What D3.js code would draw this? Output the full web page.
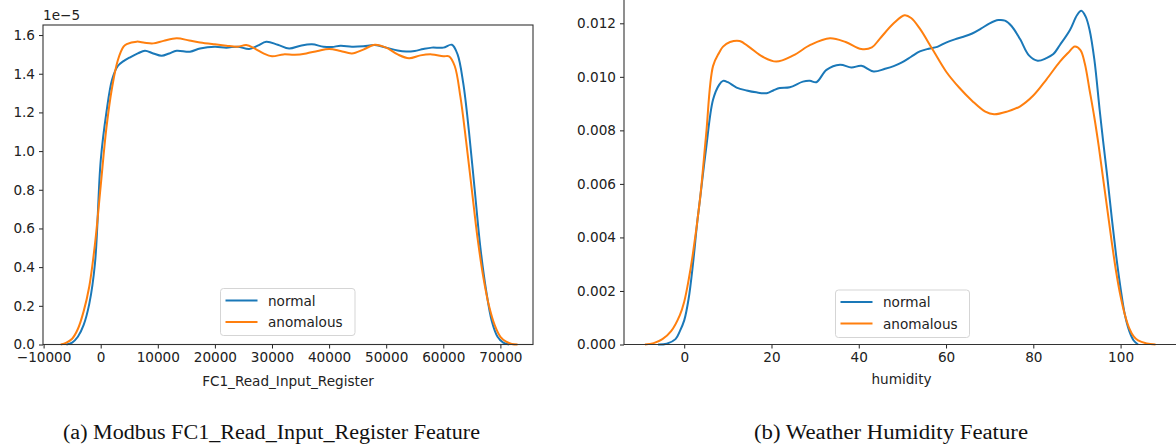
<!DOCTYPE html>
<html>
<head>
<meta charset="utf-8">
<script src="https://cdn.jsdelivr.net/npm/d3@7"></script>
<style>
  html, body { margin: 0; padding: 0; background: #fff; }
  svg { display: block; }
  .tick text { font-family: "DejaVu Sans", sans-serif; font-size: 13.6px; fill: #222; }
</style>
</head>
<body>
<svg id="chart" width="1176" height="445"></svg>
<script>
// ---------- DATA ----------
// (a) Modbus FC1_Read_Input_Register: x values, density in units of 1e-5
const fc1NormalX = [-6000,-5000,-4000,-3000,-2000,-1000,0,1000,2000,3000,4000,5150,6500,7750,9200,10680,12000,13300,15640,17400,20000,22000,24000,26000,27500,29000,31000,33000,35000,37000,39000,40500,42000,44000,46000,48000,50000,52000,53500,55000,56500,58000,60000,61500,62500,63500,64500,65500,66500,67500,68500,69500,70500,71500];
const fc1NormalY = [0,0.01,0.04,0.10,0.21,0.42,0.95,1.20,1.37,1.44,1.465,1.485,1.505,1.519,1.505,1.493,1.505,1.519,1.514,1.531,1.540,1.535,1.540,1.528,1.545,1.565,1.550,1.530,1.545,1.552,1.540,1.538,1.545,1.540,1.542,1.548,1.535,1.520,1.515,1.518,1.528,1.535,1.535,1.550,1.50,1.35,1.10,0.80,0.50,0.28,0.12,0.04,0.01,0];
const fc1AnomX = [-7000,-6000,-5000,-4000,-3000,-2000,-1000,0,1000,2000,3000,4000,4550,6300,7700,9200,11000,13300,15500,17400,20000,22000,24000,25500,27000,28500,30000,32000,34000,36000,38000,40000,42000,44000,46000,48000,50000,52000,54000,56000,58000,60000,61000,62000,63000,64000,65000,66000,67000,68000,69000,70000,71000,72000,73000];
const fc1AnomY = [0,0.01,0.03,0.08,0.17,0.30,0.52,0.82,1.12,1.33,1.47,1.54,1.553,1.566,1.560,1.557,1.570,1.583,1.572,1.562,1.552,1.545,1.540,1.548,1.530,1.505,1.490,1.500,1.498,1.505,1.518,1.528,1.518,1.505,1.525,1.550,1.535,1.500,1.480,1.495,1.500,1.490,1.490,1.44,1.28,1.05,0.80,0.55,0.35,0.20,0.10,0.04,0.015,0.003,0];

// (b) Weather humidity: x values, density
const humNormalX = [-6,-4,-2,-1,0,1,2,3,3.6,5,6.6,8,8.9,10,12,14.3,16.5,18.9,20.5,21.9,24.2,27.2,28.8,30.3,32.6,35.7,38.3,40.6,43.4,46,48,50,52,54,56,58,60,62,64,66,68,70,72,73.5,75,77,79,81,83,84.6,86.1,88.4,90,91,92,92.9,94,95.2,96,97,98,99,100,101,102,103,104];
const humNormalY = [0,0.00003,0.0002,0.0005,0.0009,0.0017,0.0030,0.0046,0.0054,0.0073,0.00914,0.0097,0.00985,0.0098,0.0096,0.00949,0.00942,0.00939,0.00950,0.00958,0.00961,0.00982,0.00985,0.00980,0.01026,0.01045,0.01035,0.01041,0.01020,0.01030,0.01040,0.01055,0.01075,0.01095,0.01105,0.01112,0.01128,0.01140,0.01150,0.01162,0.01180,0.01200,0.01212,0.01210,0.01190,0.01140,0.01080,0.01060,0.01070,0.01085,0.01119,0.01175,0.01230,0.01247,0.01225,0.01175,0.01063,0.00877,0.0076,0.0062,0.0047,0.0033,0.0021,0.0011,0.0005,0.00015,0];
const humAnomX = [-9,-7,-5,-3,-1,0,1,2,3.6,5,6.6,8,8.9,10.5,12.7,15,18,21.1,25,29,33.4,37,40.6,43,44.8,48,50.5,52,54,57,60,63,66,69,71,74,77,80,83,86.1,88,89.5,90.8,91.8,92.9,94,95,96,97,98,99,100,101,102,103,104,106,108];
const humAnomY = [0,0.00005,0.0002,0.0005,0.0011,0.0016,0.0024,0.0034,0.0054,0.0078,0.0104,0.0109,0.01113,0.0113,0.01134,0.0111,0.01075,0.01057,0.0108,0.0112,0.01144,0.0113,0.01104,0.0111,0.01142,0.0120,0.0123,0.0122,0.0118,0.0110,0.0102,0.0096,0.0091,0.0087,0.0086,0.0087,0.0089,0.0093,0.0099,0.01057,0.0109,0.01113,0.0110,0.0105,0.0095,0.00847,0.0074,0.0062,0.0050,0.0038,0.0027,0.0018,0.0011,0.0006,0.0003,0.00015,0.00004,0];

const fc1XTicks = [-10000,0,10000,20000,30000,40000,50000,60000,70000];
const fc1YTicks = [0,0.2,0.4,0.6,0.8,1.0,1.2,1.4,1.6];
const humXTicks = [0,20,40,60,80,100];
const humYTicks = [0,0.002,0.004,0.006,0.008,0.010,0.012];
const seriesNames = ["normal","anomalous"];
const captions = ["(a) Modbus FC1_Read_Input_Register Feature", "(b) Weather Humidity Feature"];
const xLabels = ["FC1_Read_Input_Register", "humidity"];

// ---------- DRAWING ----------
const BLUE = "#1a78b8", ORANGE = "#ff7f0e";
const svg = d3.select("#chart");
const FONT = '"DejaVu Sans", sans-serif';

function line(x, y, xs, ys) {
  return d3.line().x((d, i) => x(xs[i])).y((d, i) => y(ys[i])).curve(d3.curveCatmullRom.alpha(0.5))(xs);
}

function legend(g, x0, y0, w, h) {
  const lg = g.append("g");
  lg.append("rect").attr("x", x0).attr("y", y0).attr("width", w).attr("height", h)
    .attr("rx", 3).attr("fill", "white").attr("fill-opacity", 0.85).attr("stroke", "#d5d5d5").attr("stroke-width", 1);
  [BLUE, ORANGE].forEach((c, i) => {
    const yy = y0 + 12 + i * 21.5;
    lg.append("line").attr("x1", x0 + 5).attr("x2", x0 + 37).attr("y1", yy).attr("y2", yy)
      .attr("stroke", c).attr("stroke-width", 2);
    lg.append("text").attr("x", x0 + 47.5).attr("y", yy + 5).text(seriesNames[i])
      .attr("font-family", FONT).attr("font-size", 13.6).attr("fill", "#222");
  });
}

// ----- Panel (a) -----
{
  const x = d3.scaleLinear().domain([-10105, 75710]).range([43, 533]);
  const y = d3.scaleLinear().domain([0, 1.652]).range([344.5, 25]);
  const g = svg.append("g");
  g.append("g").attr("transform", "translate(0,344.5)")
    .call(d3.axisBottom(x).tickValues(fc1XTicks).tickSize(4).tickPadding(4).tickFormat(d => d < 0 ? "\u2212" + Math.abs(d) : d))
    .call(a => a.select(".domain").remove());
  g.append("g").attr("transform", "translate(43,0)")
    .call(d3.axisLeft(y).tickValues(fc1YTicks).tickSize(4).tickPadding(4).tickFormat(d3.format(".1f")))
    .call(a => a.select(".domain").remove());
  g.selectAll(".tick line").attr("stroke", "#222").attr("stroke-width", 1);
  g.append("path").attr("d", line(x, y, fc1NormalX, fc1NormalY)).attr("fill", "none").attr("stroke", BLUE).attr("stroke-width", 2);
  g.append("path").attr("d", line(x, y, fc1AnomX, fc1AnomY)).attr("fill", "none").attr("stroke", ORANGE).attr("stroke-width", 2);
  g.append("rect").attr("x", 43).attr("y", 25).attr("width", 490).attr("height", 319.5)
    .attr("fill", "none").attr("stroke", "#333").attr("stroke-width", 1.1);
  g.append("text").attr("x", 43).attr("y", 20).text("1e\u22125")
    .attr("font-family", FONT).attr("font-size", 13.6).attr("fill", "#222");
  g.append("text").attr("x", 288).attr("y", 386).attr("text-anchor", "middle").text(xLabels[0])
    .attr("font-family", FONT).attr("font-size", 13.6).attr("fill", "#222");
  legend(g, 220.5, 288.5, 134.5, 47);
}

// ----- Panel (b) -----
{
  const x = d3.scaleLinear().domain([-13.8, 112.7]).range([624, 1176]);
  const y = d3.scaleLinear().domain([0, 0.012]).range([344.5, 23.3]);
  const g = svg.append("g");
  g.append("g").attr("transform", "translate(0,344.5)")
    .call(d3.axisBottom(x).tickValues(humXTicks).tickSize(4).tickPadding(4))
    .call(a => a.select(".domain").remove());
  g.append("g").attr("transform", "translate(624,0)")
    .call(d3.axisLeft(y).tickValues(humYTicks).tickSize(4).tickPadding(4).tickFormat(d3.format(".3f")))
    .call(a => a.select(".domain").remove());
  g.selectAll(".tick line").attr("stroke", "#222").attr("stroke-width", 1);
  g.append("path").attr("d", line(x, y, humNormalX, humNormalY)).attr("fill", "none").attr("stroke", BLUE).attr("stroke-width", 2);
  g.append("path").attr("d", line(x, y, humAnomX, humAnomY)).attr("fill", "none").attr("stroke", ORANGE).attr("stroke-width", 2);
  g.append("line").attr("x1", 624).attr("x2", 624).attr("y1", 0).attr("y2", 345).attr("stroke", "#333").attr("stroke-width", 1.1);
  g.append("line").attr("x1", 624).attr("x2", 1176).attr("y1", 344.5).attr("y2", 344.5).attr("stroke", "#333").attr("stroke-width", 1.1);
  g.append("text").attr("x", 901.5).attr("y", 384).attr("text-anchor", "middle").text(xLabels[1])
    .attr("font-family", FONT).attr("font-size", 13.6).attr("fill", "#222");
  legend(g, 835.5, 290, 134, 47.5);
}

// ----- Captions -----
svg.append("text").attr("x", 63).attr("y", 439).text(captions[0])
  .attr("font-family", '"Liberation Serif", serif').attr("font-size", 20).attr("fill", "#111")
  .attr("textLength", 417).attr("lengthAdjust", "spacingAndGlyphs");
svg.append("text").attr("x", 754).attr("y", 439).text(captions[1])
  .attr("font-family", '"Liberation Serif", serif').attr("font-size", 20).attr("fill", "#111")
  .attr("textLength", 274).attr("lengthAdjust", "spacingAndGlyphs");
</script>
</body>
</html>
